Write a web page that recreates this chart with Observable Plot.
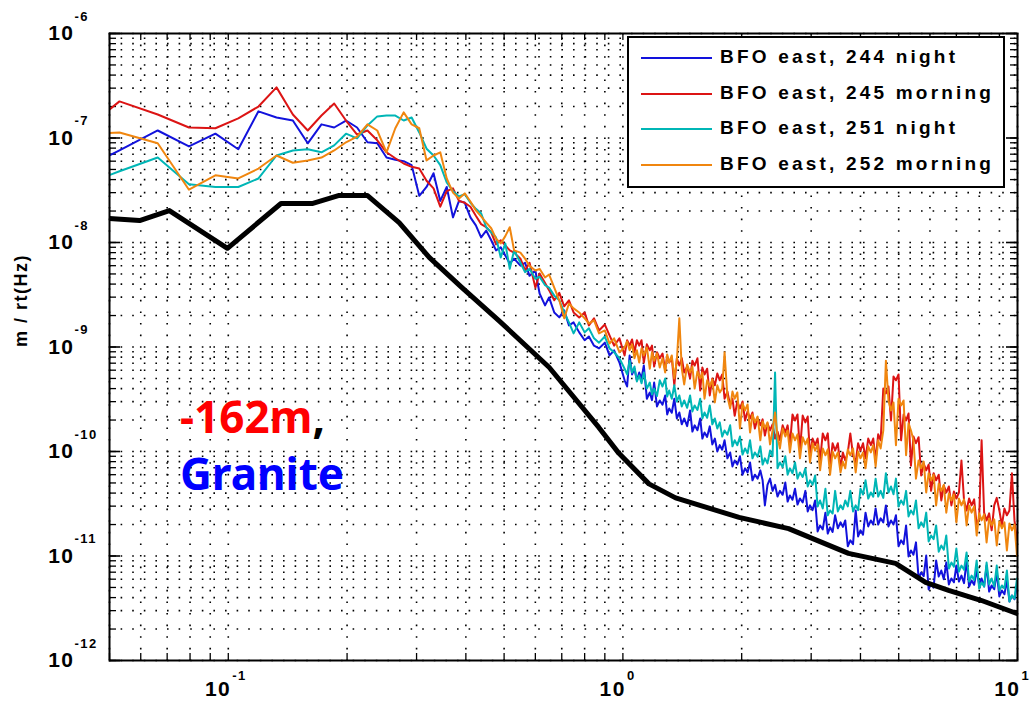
<!DOCTYPE html>
<html><head><meta charset="utf-8">
<script src="https://cdn.jsdelivr.net/npm/d3@7"></script>
<script src="https://cdn.jsdelivr.net/npm/@observablehq/plot@0.6"></script>
<style>
body{margin:0;background:#fff}
#wrap{position:relative;width:1032px;height:709px;font-family:"Liberation Sans",Arial,sans-serif}
#chart svg{display:block}
#chart text{font-family:"Liberation Sans",Arial,sans-serif;font-weight:bold;letter-spacing:1.5px}
#legend{position:absolute;left:627px;top:36px;width:374px;height:148px;border:2px solid #000;background:#fff}
#legend .row{position:absolute;left:0;width:374px;height:30px}
#legend .swatch{position:absolute;left:12px;top:14px;width:71px;height:2px}
#legend .lab{position:absolute;left:91px;top:3px;font:bold 19px "Liberation Sans",Arial,sans-serif;letter-spacing:3.2px;white-space:nowrap;color:#000}
#note{position:absolute;left:180px;top:388px;font:bold 44px "Noto Sans",sans-serif;line-height:57px;white-space:nowrap;color:#000}
</style></head>
<body>
<div id="wrap"><div id="chart"></div><div id="legend"></div>
<div id="note"><span style="color:#ff0000">-162m</span>,<br><span style="color:#0000ff">Granite</span></div>
</div>
<script>
// frequency grid (Hz)
const freq = [0.03975, 0.053, 0.06625, 0.0795, 0.09275, 0.106, 0.11925, 0.1325, 0.14575, 0.159, 0.17225, 0.1855, 0.19875, 0.212, 0.22525, 0.2385, 0.25175, 0.265, 0.27825, 0.2915, 0.30475, 0.318, 0.33125, 0.3445, 0.35775, 0.371, 0.38425, 0.3975, 0.41075, 0.424, 0.43725, 0.4505, 0.46375, 0.477, 0.49025, 0.5035, 0.51675, 0.53,
  0.55, 0.565, 0.58, 0.6, 0.615, 0.635, 0.65, 0.67, 0.69, 0.71, 0.73, 0.75, 0.775, 0.8, 0.82, 0.845, 0.87, 0.9, 0.925, 0.95, 0.98,
  1.01, 1.04, 1.07, 1.1, 1.13, 1.17, 1.2, 1.24, 1.28, 1.31, 1.35, 1.39,
  1.43, 1.48, 1.52, 1.57, 1.61, 1.66, 1.71, 1.76, 1.81, 1.87, 1.92, 1.98, 2.04, 2.1, 2.16, 2.23, 2.29, 2.36, 2.43, 2.5, 2.58, 2.65, 2.73, 2.81, 2.9, 2.98, 3.07, 3.16, 3.26, 3.35, 3.45, 3.56,
  3.66, 3.77, 3.89, 4.0, 4.12, 4.25, 4.37, 4.5, 4.64, 4.78, 4.92, 5.07, 5.22, 5.37, 5.53, 5.7, 5.87, 6.04, 6.22, 6.41, 6.6, 6.8, 7.0, 7.21, 7.43, 7.65, 7.88, 8.11, 8.35, 8.6, 8.86, 9.13, 9.4, 9.68, 9.97];
// extra in-between frequencies of the dense (noisy) part above 1 Hz
const freqMid = [1.025, 1.055, 1.085, 1.115, 1.15, 1.185, 1.22, 1.26, 1.295, 1.33, 1.37, 1.41,
  1.455, 1.5, 1.545, 1.59, 1.635, 1.685, 1.735, 1.785, 1.84, 1.895, 1.95, 2.01, 2.07, 2.13, 2.195, 2.26, 2.325, 2.395, 2.465, 2.54, 2.615, 2.69, 2.77, 2.855, 2.94, 3.025, 3.115, 3.21, 3.305, 3.4, 3.505, 3.61,
  3.715, 3.83, 3.945, 4.06, 4.185, 4.31, 4.435, 4.57, 4.71, 4.85, 4.995, 5.145, 5.295, 5.45, 5.615, 5.785, 5.955, 6.13, 6.315, 6.505, 6.7, 6.9, 7.105, 7.32, 7.54, 7.765, 7.995, 8.23, 8.475, 8.73, 8.995, 9.265, 9.54, 9.825];

// BFO east, 244 night (m/rtHz)
const blue244 = [4.4e-8, 7.6e-8, 1.18e-7, 8.3e-8, 1.10e-7, 7.8e-8, 1.8e-7, 1.57e-7, 1.47e-7, 8.9e-8, 1.35e-7, 1.26e-7, 1.47e-7, 1.26e-7, 9.1e-8, 8.9e-8, 6.5e-8, 6.2e-8, 6.0e-8, 5.5e-8, 2.8e-8, 3.4e-8, 4.6e-8, 2.5e-8, 3.4e-8, 1.74e-8, 2.5e-8, 2.4e-8, 1.74e-8, 1.46e-8, 1.12e-8, 1.3e-8, 1.05e-8, 8.4e-9, 9.0e-9, 7.5e-9, 6.3e-9, 7.0e-9,
  6.0e-9, 6.4e-9, 4.8e-9, 5.4e-9, 3.25e-9, 2.5e-9, 2.98e-9, 2.14e-9, 1.92e-9, 2.24e-9, 1.61e-9, 1.72e-9, 1.38e-9, 1.16e-9, 1.26e-9, 1.03e-9, 9.7e-10, 1.1e-9, 8.3e-10, 9.3e-10, 7.1e-10,
  4.8e-10, 8.3e-10, 6.2e-10, 5.7e-10, 6.65e-10, 3.67e-10, 4.57e-10, 3.08e-10, 3.44e-10, 2.58e-10, 3.2e-10, 2.36e-10,
  2.07e-10, 2.47e-10, 1.78e-10, 2.07e-10, 1.52e-10, 1.74e-10, 1.33e-10, 1.15e-10, 1.28e-10, 9.8e-11, 8.2e-11, 9.0e-11, 6.9e-11, 7.85e-11, 6.0e-11, 6.6e-11, 3.05e-11, 5.5e-11, 4.8e-11, 4.2e-11, 5.05e-11, 3.8e-11, 4.4e-11, 3.55e-11, 4.2e-11, 3.05e-11, 3.4e-11, 1.96e-11, 2.6e-11, 1.88e-11, 2.45e-11, 2.1e-11,
  2.19e-11, 1.41e-11, 2.73e-11, 1.76e-11, 2.6e-11, 2.19e-11, 2.85e-11, 2.29e-11, 3.05e-11, 2.19e-11, 2.45e-11, 1.41e-11, 1.96e-11, 1.13e-11, 1.35e-11, 6.95e-12, 1.01e-11, 5.46e-12, 9.06e-12, 7.26e-12, 8.66e-12, 6.1e-12, 8.1e-12, 6.5e-12, 9.06e-12, 5.83e-12, 7.26e-12, 6.1e-12, 8.1e-12, 5.22e-12, 6.95e-12, 4.68e-12, 5.83e-12, 4.19e-12, 5.22e-12];
const blue244Mid = [4.19e-10, 5.46e-10, 4.8e-10, 5.0e-10, 3.2e-10, 3.1e-10, 2.7e-10, 2.8e-10, 2.26e-10, 2.35e-10, 2.07e-10, 1.82e-10,
  1.75e-10, 1.55e-10, 1.6e-10, 1.33e-10, 1.38e-10, 1.17e-10, 1.0e-10, 1.04e-10, 8.6e-11, 7.2e-11, 7.5e-11, 6.0e-11, 6.3e-11, 5.3e-11, 5.5e-11, 5.3e-11, 4.8e-11, 4.2e-11, 3.71e-11, 3.85e-11, 3.32e-11, 3.45e-11, 3.11e-11, 3.25e-11, 2.67e-11, 2.75e-11, 1.72e-11, 1.8e-11, 1.64e-11, 1.7e-11, 1.84e-11, 1.9e-11,
  1.24e-11, 1.3e-11, 1.54e-11, 1.6e-11, 1.92e-11, 2.0e-11, 2.0e-11, 2.1e-11, 1.92e-11, 2.0e-11, 1.24e-11, 1.3e-11, 9.9e-12, 1.03e-11, 6.1e-12, 6.4e-12, 4.78e-12, 5.0e-12, 6.37e-12, 6.0e-12, 5.34e-12, 5.6e-12, 5.7e-12, 5.5e-12, 5.1e-12, 5.3e-12, 5.34e-12, 5.1e-12, 4.57e-12, 4.8e-12, 4.1e-12, 4.3e-12, 3.67e-12, 3.85e-12];

// BFO east, 245 morning
const red245 = [9.3e-8, 2.24e-7, 1.68e-7, 1.26e-7, 1.24e-7, 1.54e-7, 2.0e-7, 3.05e-7, 1.68e-7, 1.18e-7, 1.64e-7, 2.14e-7, 1.47e-7, 1.08e-7, 1.18e-7, 9.5e-8, 7.3e-8, 6.4e-8, 5.7e-8, 5.3e-8, 5.1e-8, 3.9e-8, 3.3e-8, 2.2e-8, 3.1e-8, 3.3e-8, 2.5e-8, 2.4e-8, 2.2e-8, 1.8e-8, 1.5e-8, 1.4e-8, 1.25e-8, 9.6e-9, 1.05e-8, 9.4e-9, 8.4e-9, 8.0e-9,
  7.0e-9, 5.4e-9, 6.4e-9, 3.7e-9, 5.05e-9, 4.1e-9, 3.5e-9, 2.8e-9, 3.3e-9, 2.45e-9, 2.8e-9, 2.14e-9, 1.92e-9, 2.14e-9, 1.61e-9, 1.88e-9, 1.44e-9, 1.64e-9, 1.29e-9, 1.03e-9, 1.21e-9,
  8.3e-10, 1.03e-9, 8.9e-10, 1.03e-9, 7.1e-10, 9.3e-10, 6.5e-10, 7.8e-10, 6.0e-10, 7.1e-10, 4.3e-10, 6.65e-10,
  5.7e-10, 5.0e-10, 6.65e-10, 3.84e-10, 5.46e-10, 3.44e-10, 4.3e-10, 4.8e-10, 3.2e-10, 2.76e-10, 2.2e-10, 2.58e-10, 1.98e-10, 2.07e-10, 1.66e-10, 1.78e-10, 1.42e-10, 1.59e-10, 1.33e-10, 1.28e-10, 1.52e-10, 1.15e-10, 1.98e-10, 1.02e-10, 1.9e-10, 9.2e-11, 1.15e-10, 8.2e-11, 1.28e-10, 7.3e-11, 1.02e-10, 6.9e-11,
  8.2e-11, 1.49e-10, 7.85e-11, 1.02e-10, 8.6e-11, 1.15e-10, 8.2e-11, 1.28e-10, 3.6e-10, 1.98e-10, 4.8e-10, 1.28e-10, 1.98e-10, 7.3e-11, 1.2e-10, 5.9e-11, 6.6e-11, 4.2e-11, 5.3e-11, 3.4e-11, 4.05e-11, 3.05e-11, 3.55e-11, 8.2e-11, 2.73e-11, 3.05e-11, 1.96e-11, 1.28e-10, 2.19e-11, 1.76e-11, 3.6e-11, 1.96e-11, 2.45e-11, 6.2e-11, 1.41e-11];
const red245Mid = [1.16e-9, 1.18e-9, 1.16e-9, 1.16e-9, 1.06e-9, 1.03e-9, 8.9e-10, 8.66e-10, 8.1e-10, 7.94e-10, 7.8e-10, 7.8e-10,
  6.5e-10, 7.4e-10, 7.8e-10, 6.37e-10, 6.2e-10, 5.0e-10, 5.58e-10, 5.46e-10, 3.75e-10, 3.2e-10, 3.01e-10, 3.01e-10, 2.42e-10, 2.36e-10, 2.07e-10, 2.03e-10, 1.86e-10, 1.82e-10, 1.55e-10, 1.78e-10, 1.78e-10, 2.26e-10, 2.26e-10, 2.21e-10, 2.16e-10, 1.33e-10, 1.33e-10, 1.49e-10, 1.49e-10, 1.2e-10, 1.2e-10, 9.8e-11,
  9.8e-11, 9.2e-11, 1.2e-10, 1.2e-10, 1.33e-10, 1.33e-10, 1.46e-10, 4.0e-10, 4.19e-10, 5.22e-10, 5.46e-10, 2.26e-10, 2.31e-10, 1.39e-10, 1.37e-10, 7.67e-11, 7.5e-11, 6.2e-11, 6.0e-11, 4.73e-11, 4.63e-11, 4.14e-11, 4.05e-11, 3.4e-11, 3.55e-11, 3.48e-11, 2.29e-11, 2.6e-11, 2.56e-11, 3.05e-11, 2.73e-11, 2.85e-11, 2.73e-11, 2.19e-11];

// BFO east, 251 night
const cyan251 = [3.2e-8, 4.8e-8, 6.5e-8, 3.6e-8, 3.4e-8, 3.4e-8, 4.1e-8, 6.8e-8, 7.6e-8, 7.8e-8, 7.3e-8, 8.5e-8, 1.10e-7, 9.9e-8, 1.32e-7, 1.61e-7, 1.64e-7, 1.64e-7, 1.47e-7, 1.57e-7, 1.13e-7, 7.9e-8, 6.8e-8, 5.5e-8, 3.75e-8, 3.1e-8, 2.76e-8, 2.9e-8, 2.4e-8, 2.1e-8, 1.9e-8, 1.4e-8, 1.25e-8, 1.12e-8, 7.2e-9, 9.8e-9, 5.6e-9, 8.4e-9,
  6.4e-9, 5.2e-9, 5.6e-9, 4.5e-9, 4.7e-9, 3.9e-9, 3.7e-9, 3.1e-9, 2.8e-9, 2.14e-9, 1.72e-9, 1.35e-9, 1.72e-9, 1.38e-9, 1.51e-9, 1.21e-9, 1.1e-9, 1.26e-9, 9.7e-10, 8.9e-10, 7.8e-10,
  6.2e-10, 7.4e-10, 6.5e-10, 5.34e-10, 5.7e-10, 4.57e-10, 4.0e-10, 4.8e-10, 5.0e-10, 3.84e-10, 4.3e-10, 3.44e-10,
  3.08e-10, 3.44e-10, 2.76e-10, 3.2e-10, 2.36e-10, 2.76e-10, 2.07e-10, 1.9e-10, 1.59e-10, 1.78e-10, 1.28e-10, 1.39e-10, 1.07e-10, 1.28e-10, 9.8e-11, 1.12e-10, 8.6e-11, 1.02e-10, 5.7e-10, 7.85e-11, 9.0e-11, 6.9e-11, 7.85e-11, 6.3e-11, 6.9e-11, 5.3e-11, 5.9e-11, 3.4e-11, 4.4e-11, 2.73e-11, 4.2e-11, 3.05e-11,
  3.4e-11, 4.2e-11, 3.05e-11, 4.4e-11, 5.3e-11, 4.05e-11, 5.5e-11, 4.2e-11, 6.2e-11, 4.63e-11, 5.5e-11, 3.4e-11, 4.2e-11, 2.73e-11, 3.4e-11, 2.1e-11, 2.6e-11, 1.57e-11, 1.96e-11, 1.26e-11, 1.57e-11, 8.66e-12, 1.18e-11, 8.1e-12, 1.08e-11, 6.5e-12, 9.06e-12, 5.58e-12, 8.66e-12, 6.1e-12, 8.1e-12, 5.22e-12, 7.26e-12, 4.19e-12, 6.1e-12];
const cyan251Mid = [5.46e-10, 5.7e-10, 4.68e-10, 4.5e-10, 4.0e-10, 3.51e-10, 3.4e-10, 4.19e-10, 3.36e-10, 3.2e-10, 3.01e-10, 2.7e-10,
  2.62e-10, 2.42e-10, 2.5e-10, 2.07e-10, 2.1e-10, 1.82e-10, 1.66e-10, 1.39e-10, 1.45e-10, 1.12e-10, 1.15e-10, 9.36e-11, 9.6e-11, 8.6e-11, 8.9e-11, 7.5e-11, 7.7e-11, 9.0e-11, 6.9e-11, 7.1e-11, 6.0e-11, 6.2e-11, 5.5e-11, 5.7e-11, 4.63e-11, 4.8e-11, 2.98e-11, 2.85e-11, 2.45e-11, 2.55e-11, 2.67e-11, 2.8e-11,
  2.98e-11, 2.67e-11, 2.75e-11, 3.88e-11, 3.55e-11, 3.7e-11, 3.71e-11, 3.6e-11, 4.05e-11, 3.9e-11, 2.98e-11, 3.1e-11, 2.39e-11, 2.5e-11, 1.84e-11, 1.9e-11, 1.38e-11, 1.45e-11, 1.1e-11, 1.15e-11, 7.59e-12, 7.9e-12, 7.1e-12, 7.4e-12, 5.7e-12, 5.9e-12, 4.88e-12, 5.1e-12, 5.34e-12, 5.1e-12, 4.68e-12, 4.9e-12, 3.67e-12, 3.9e-12];

// BFO east, 252 morning
const orange252 = [1.06e-7, 1.13e-7, 8.9e-8, 3.2e-8, 4.4e-8, 4.1e-8, 5.1e-8, 6.8e-8, 5.8e-8, 6.1e-8, 6.5e-8, 7.6e-8, 9.1e-8, 1.03e-7, 1.35e-7, 1.18e-7, 7.3e-8, 1.24e-7, 1.76e-7, 1.35e-7, 1.24e-7, 6.1e-8, 6.8e-8, 7.3e-8, 4.1e-8, 3.0e-8, 2.64e-8, 2.95e-8, 2.47e-8, 2.03e-8, 1.78e-8, 1.55e-8, 1.37e-8, 1.09e-8, 9.8e-9, 1.15e-8, 1.4e-8, 8.4e-9,
  8.0e-9, 7.0e-9, 6.0e-9, 5.4e-9, 5.6e-9, 4.63e-9, 4.94e-9, 3.7e-9, 2.8e-9, 1.88e-9, 2.61e-9, 2.34e-9, 2.14e-9, 1.88e-9, 1.68e-9, 1.8e-9, 1.35e-9, 1.44e-9, 1.08e-9, 1.21e-9, 8.9e-10,
  9.9e-10, 9.3e-10, 7.8e-10, 7.1e-10, 8.3e-10, 6.2e-10, 7.4e-10, 6.37e-10, 5.7e-10, 7.1e-10, 5.0e-10, 1.88e-9,
  4.38e-10, 5.7e-10, 4.0e-10, 5.0e-10, 3.2e-10, 4.19e-10, 2.95e-10, 3.67e-10, 8.9e-10, 2.58e-10, 3.2e-10, 1.66e-10, 2.47e-10, 1.52e-10, 1.9e-10, 1.28e-10, 1.66e-10, 1.17e-10, 2.36e-10, 1.07e-10, 1.39e-10, 9.8e-11, 1.28e-10, 8.6e-11, 1.17e-10, 7.85e-11, 1.02e-10, 6.6e-11, 9.2e-11, 6.0e-11, 8.6e-11, 6.3e-11,
  6.9e-11, 9.2e-11, 6.3e-11, 8.6e-11, 6.9e-11, 9.8e-11, 7.2e-11, 1.07e-10, 7.4e-10, 2.47e-10, 1.15e-10, 2.76e-10, 9.2e-11, 1.59e-10, 5.5e-11, 6.9e-11, 4.05e-11, 5.3e-11, 3.05e-11, 4.2e-11, 2.6e-11, 3.4e-11, 2.1e-11, 3.05e-11, 1.96e-11, 2.6e-11, 1.57e-11, 2.19e-11, 1.35e-11, 1.96e-11, 1.26e-11, 1.84e-11, 1.13e-11, 1.76e-11, 1.01e-11];
const orange252Mid = [1.13e-9, 1.06e-9, 9.3e-10, 9.7e-10, 9.9e-10, 8.9e-10, 8.66e-10, 7.8e-10, 8.48e-10, 8.3e-10, 7.4e-10, 6.2e-10,
  6.8e-10, 6.5e-10, 5.83e-10, 5.7e-10, 4.8e-10, 4.88e-10, 4.3e-10, 4.0e-10, 3.36e-10, 3.75e-10, 3.67e-10, 2.88e-10, 2.82e-10, 2.26e-10, 2.16e-10, 1.94e-10, 1.9e-10, 1.59e-10, 1.39e-10, 1.66e-10, 1.59e-10, 1.49e-10, 1.46e-10, 1.37e-10, 1.33e-10, 1.2e-10, 1.17e-10, 1.07e-10, 1.05e-10, 1.0e-10, 9.8e-11, 8.0e-11,
  1.05e-10, 1.07e-10, 1.0e-10, 9.8e-11, 1.12e-10, 1.15e-10, 1.28e-10, 1.59e-10, 3.08e-10, 2.95e-10, 3.2e-10, 3.08e-10, 1.86e-10, 1.28e-10, 8.2e-11, 8.0e-11, 6.2e-11, 6.0e-11, 4.94e-11, 4.8e-11, 3.97e-11, 3.88e-11, 3.55e-11, 3.48e-11, 3.05e-11, 2.98e-11, 2.56e-11, 2.5e-11, 2.29e-11, 2.24e-11, 2.14e-11, 2.1e-11, 2.05e-11, 2.0e-11];

// reference (black) curve
const modelFreq = [0.05, 0.0596, 0.0709, 0.0995, 0.136, 0.163, 0.191, 0.225, 0.271, 0.323, 0.391, 0.485, 0.65, 0.869, 0.977, 1.164, 1.36, 1.97, 2.63, 3.73, 4.91, 5.85, 6.69, 8.11, 10.0];
const modelVal = [1.70e-8, 1.62e-8, 2.02e-8, 8.8e-9, 2.36e-8, 2.36e-8, 2.82e-8, 2.82e-8, 1.55e-8, 7.2e-9, 3.7e-9, 1.79e-9, 6.4e-10, 1.70e-10, 9.6e-11, 4.9e-11, 3.6e-11, 2.34e-11, 1.83e-11, 1.06e-11, 8.5e-12, 5.6e-12, 4.7e-12, 3.75e-12, 2.8e-12];

const seriesNames = ["BFO east, 244 night", "BFO east, 245 morning", "BFO east, 251 night", "BFO east, 252 morning"];
const seriesColors = ["#1212dc", "#dc1414", "#00b6b6", "#f0860f"];
const seriesValues = [blue244, red245, cyan251, orange252];
const seriesMid = [blue244Mid, red245Mid, cyan251Mid, orange252Mid];

// axis ticks
const xMajor = [0.1, 1, 10];
const xExp = ["-1", "0", "1"];
const yMajor = [1e-12, 1e-11, 1e-10, 1e-9, 1e-8, 1e-7, 1e-6];
const yExp = ["-12", "-11", "-10", "-9", "-8", "-7", "-6"];
const xGrid = [0.05, 0.06, 0.07, 0.08, 0.09, 0.1, 0.2, 0.3, 0.4, 0.5, 0.6, 0.7, 0.8, 0.9, 1, 2, 3, 4, 5, 6, 7, 8, 9, 10];
const mant = [1, 2, 3, 4, 5, 6, 7, 8, 9];
const yGrid = yMajor.slice(0, -1).flatMap(d => mant.map(m => m * d)).concat([1e-6]);

const W = 1032, H = 709, ML = 109, MR = 15, MT = 33, MB = 49;
const FW = W - ML - MR, FH = H - MT - MB;

const lineMarks = seriesValues.map((vals, i) => {
  const rows = freq.map((f, k) => ({f, v: vals[k]}))
    .concat(freqMid.map((f, k) => ({f, v: seriesMid[i][k]})))
    .sort((a, b) => a.f - b.f);
  return Plot.line(rows, {x: "f", y: "v", stroke: seriesColors[i], strokeWidth: 2, clip: true});
});

const yTable = yMajor.map((v, i) => ({v, e: yExp[i]}));
const xTable = xMajor.map((v, i) => ({v, e: xExp[i]}));
const grid = {stroke: "#000", strokeWidth: 1.6, strokeDasharray: "1.6,10"};

const chart = Plot.plot({
  width: W, height: H,
  marginLeft: ML, marginRight: MR, marginTop: MT, marginBottom: MB,
  style: {background: "#fff", fontFamily: "Liberation Sans, Arial, sans-serif"},
  x: {type: "log", domain: [0.05, 10], axis: null},
  y: {type: "log", domain: [1e-12, 1e-6], axis: null},
  marks: [
    Plot.ruleX(xGrid, {x: d => d, ...grid}),
    Plot.ruleY(yGrid, {y: d => d, ...grid}),
    Plot.ruleX(xGrid, {x: d => d, stroke: "#000", strokeWidth: 1.3, insetTop: FH - 7}),
    Plot.ruleX(xGrid, {x: d => d, stroke: "#000", strokeWidth: 1.3, insetBottom: FH - 7}),
    Plot.ruleY(yGrid, {y: d => d, stroke: "#000", strokeWidth: 1.3, insetRight: FW - 7}),
    Plot.ruleY(yGrid, {y: d => d, stroke: "#000", strokeWidth: 1.3, insetLeft: FW - 7}),
    Plot.ruleY(yMajor, {y: d => d, stroke: "#000", strokeWidth: 1.6, insetRight: FW - 11}),
    Plot.ruleY(yMajor, {y: d => d, stroke: "#000", strokeWidth: 1.6, insetLeft: FW - 11}),
    ...lineMarks,
    Plot.line(modelFreq.map((f, k) => ({f, v: modelVal[k]})), {x: "f", y: "v", stroke: "#000", strokeWidth: 5, strokeLinejoin: "round", clip: true}),
    Plot.frame({stroke: "#000", strokeWidth: 2}),
    Plot.text(yTable, {y: "v", text: () => "10", frameAnchor: "left", dx: -35, textAnchor: "end", fontSize: 21, fill: "#000"}),
    Plot.text(yTable, {y: "v", text: "e", frameAnchor: "left", dx: -35, dy: -17, textAnchor: "start", fontSize: 13, fill: "#000"}),
    Plot.text(xTable, {x: "v", text: () => "10", frameAnchor: "bottom", dx: 3, dy: 35, textAnchor: "end", fontSize: 21, fill: "#000"}),
    Plot.text(xTable, {x: "v", text: "e", frameAnchor: "bottom", dx: 4, dy: 19, textAnchor: "start", fontSize: 13, fill: "#000"}),
    Plot.text(["m / rt(Hz)"], {text: d => d, frameAnchor: "left", dx: -88, rotate: -90, fontSize: 18, fill: "#000"})
  ]
});
document.getElementById("chart").appendChild(chart);

const legend = document.getElementById("legend");
seriesNames.forEach((name, i) => {
  const row = document.createElement("div");
  row.className = "row";
  row.style.top = (5 + 35.5 * i) + "px";
  row.innerHTML = `<div class="swatch" style="background:${seriesColors[i]}"></div><div class="lab">${name}</div>`;
  legend.appendChild(row);
});
</script>
</body></html>
